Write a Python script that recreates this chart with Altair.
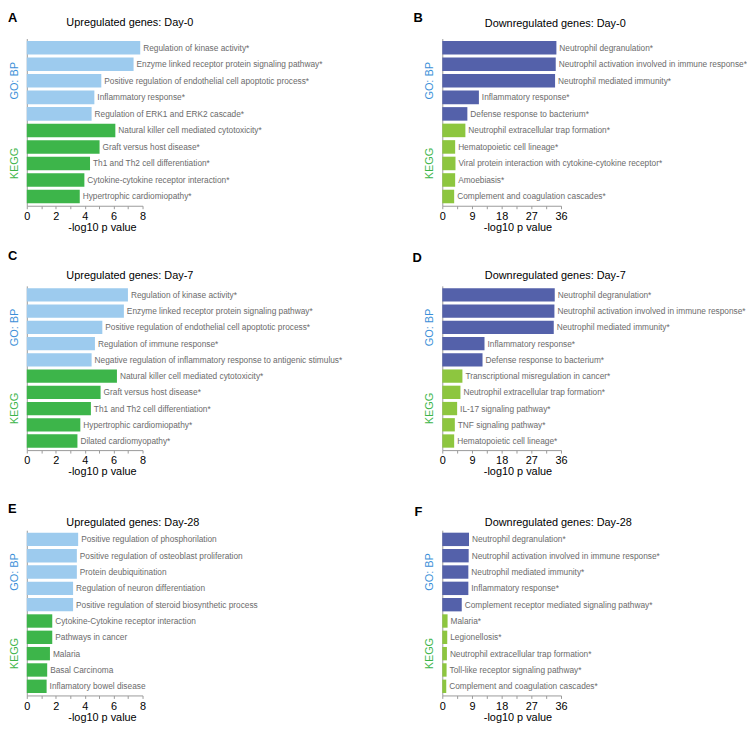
import altair as alt
import pandas as pd

FONT = "Liberation Sans"

GROUPS = ["GO: BP", "KEGG"]
GROUP_COUNTS = [5, 5]

A_letter = "A"
A_title = "Upregulated genes: Day-0"
A_terms = [
    "Regulation of kinase activity*",
    "Enzyme linked receptor protein signaling pathway*",
    "Positive regulation of endothelial cell apoptotic process*",
    "Inflammatory response*",
    "Regulation of ERK1 and ERK2 cascade*",
    "Natural killer cell mediated cytotoxicity*",
    "Graft versus host disease*",
    "Th1 and Th2 cell differentiation*",
    "Cytokine-cytokine receptor interaction*",
    "Hypertrophic cardiomiopathy*",
]
A_values = [7.84, 7.38, 5.15, 4.67, 4.48, 6.12, 5.03, 4.37, 3.98, 3.66]

B_letter = "B"
B_title = "Downregulated genes: Day-0"
B_terms = [
    "Neutrophil degranulation*",
    "Neutrophil activation involved in immune response*",
    "Neutrophil mediated immunity*",
    "Inflammatory response*",
    "Defense response to bacterium*",
    "Neutrophil extracellular trap formation*",
    "Hematopoietic cell lineage*",
    "Viral protein interaction with cytokine-cytokine receptor*",
    "Amoebiasis*",
    "Complement and coagulation cascades*",
]
B_values = [34.6, 34.4, 34.2, 11.1, 7.6, 7.0, 3.9, 4.0, 3.9, 3.6]

C_letter = "C"
C_title = "Upregulated genes: Day-7"
C_terms = [
    "Regulation of kinase activity*",
    "Enzyme linked receptor protein signaling pathway*",
    "Positive regulation of endothelial cell apoptotic process*",
    "Regulation of immune response*",
    "Negative regulation of inflammatory response to antigenic stimulus*",
    "Natural killer cell mediated cytotoxicity*",
    "Graft versus host disease*",
    "Th1 and Th2 cell differentiation*",
    "Hypertrophic cardiomiopathy*",
    "Dilated cardiomyopathy*",
]
C_values = [6.99, 6.71, 5.22, 4.71, 4.48, 6.23, 5.10, 4.43, 3.70, 3.50]

D_letter = "D"
D_title = "Downregulated genes: Day-7"
D_terms = [
    "Neutrophil degranulation*",
    "Neutrophil activation involved in immune response*",
    "Neutrophil mediated immunity*",
    "Inflammatory response*",
    "Defense response to bacterium*",
    "Transcriptional misregulation in cancer*",
    "Neutrophil extracellular trap formation*",
    "IL-17 signaling pathway*",
    "TNF signaling pathway*",
    "Hematopoietic cell lineage*",
]
D_values = [34.1, 34.0, 33.8, 12.8, 12.2, 6.1, 5.5, 4.5, 3.8, 3.6]

E_letter = "E"
E_title = "Upregulated genes: Day-28"
E_terms = [
    "Positive regulation of phosphorilation",
    "Positive regulation of osteoblast proliferation",
    "Protein deubiquitination",
    "Regulation of neuron differentiation",
    "Positive regulation of steroid biosynthetic process",
    "Cytokine-Cytokine receptor interaction",
    "Pathways in cancer",
    "Malaria",
    "Basal Carcinoma",
    "Inflamatory bowel disease",
]
E_values = [3.55, 3.46, 3.46, 3.20, 3.20, 1.76, 1.76, 1.60, 1.41, 1.37]

F_letter = "F"
F_title = "Downregulated genes: Day-28"
F_terms = [
    "Neutrophil degranulation*",
    "Neutrophil activation involved in immune response*",
    "Neutrophil mediated immunity*",
    "Inflammatory response*",
    "Complement receptor mediated signaling pathway*",
    "Malaria*",
    "Legionellosis*",
    "Neutrophil extracellular trap formation*",
    "Toll-like receptor signaling pathway*",
    "Complement and coagulation cascades*",
]
F_values = [8.1, 8.0, 7.9, 7.9, 5.9, 1.6, 1.5, 1.4, 1.3, 1.2]

UP_DOMAIN = [0, 8]
UP_TICKS = [0, 1, 2, 3, 4, 5, 6, 7, 8]
UP_LABELS = [0, 2, 4, 6, 8]
DOWN_DOMAIN = [0, 36]
DOWN_TICKS = [0, 4.5, 9, 13.5, 18, 22.5, 27, 31.5, 36]
DOWN_LABELS = [0, 9, 18, 27, 36]

UP_COLORS = ["#9dcbee", "#3db54a"]
DOWN_COLORS = ["#5461aa", "#8dc63f"]
GROUP_LABEL_COLORS = ["#3b8fd8", "#3db54a"]

UP_W = 117
DOWN_W = 120


def panel(letter, title, terms, values, domain, ticks, labvals, colors,
          width, height, letter_x, letter_y, title_x, title_y):
    groups = []
    for g, n in zip(GROUPS, GROUP_COUNTS):
        groups += [g] * n
    df = pd.DataFrame({"term": terms, "value": values, "group": groups})
    mids = []
    start = 0
    for n in GROUP_COUNTS:
        mids.append(terms[start + n // 2])
        start += n
    gdf = pd.DataFrame({"term": mids, "label": GROUPS})

    yscale = alt.Scale(domain=terms, paddingInner=0.18, paddingOuter=0.15)
    xscale = alt.Scale(domain=domain, nice=False, zero=True)
    lab_test = " || ".join(f"datum.value == {v}" for v in labvals)

    xaxis = alt.Axis(
        values=ticks,
        labelExpr=f"({lab_test}) ? datum.label : ''",
        title="-log10 p value",
        titleFont=FONT,
        titleFontSize=11,
        titleFontWeight="normal",
        titleColor="#000000",
        titleX=76,
        titleY=25,
        titleAlign="center",
        titleBaseline="alphabetic",
        labelFont=FONT,
        labelFontSize=11,
        labelColor="#000000",
        labelPadding=2,
        labelFlush=False,
        labelOverlap=False,
        labelBound=False,
        domainColor="#9a9a9a",
        tickColor="#9a9a9a",
        tickSize=3,
        grid=False,
    )
    yaxis = alt.Axis(labels=False, ticks=False, title=None,
                     domainColor="#9a9a9a", grid=False)

    base = alt.Chart(df)
    bars = base.mark_bar().encode(
        x=alt.X("value:Q", scale=xscale, axis=xaxis),
        y=alt.Y("term:N", scale=yscale, axis=yaxis),
        color=alt.Color("group:N",
                        scale=alt.Scale(domain=GROUPS, range=colors),
                        legend=None),
    )
    labels = base.mark_text(
        align="left", baseline="middle", dx=3, font=FONT, fontSize=8.4,
        color="#6b6b6b",
    ).encode(
        x=alt.X("value:Q", scale=xscale, axis=xaxis),
        y=alt.Y("term:N", scale=yscale, axis=yaxis),
        text="term:N",
    )
    glabels = alt.Chart(gdf).mark_text(
        angle=270, align="center", baseline="middle", font=FONT, fontSize=11,
    ).encode(
        x=alt.value(-12),
        y=alt.Y("term:N", scale=yscale, axis=yaxis),
        text="label:N",
        color=alt.Color("label:N",
                        scale=alt.Scale(domain=GROUPS, range=GROUP_LABEL_COLORS),
                        legend=None),
    )
    ldf = pd.DataFrame({"letter": [letter], "title": [title]})
    let = alt.Chart(ldf).mark_text(
        align="left", baseline="top", font=FONT, fontSize=13, fontWeight="bold",
        color="#000000",
    ).encode(
        x=alt.value(letter_x),
        y=alt.value(letter_y),
        text="letter:N",
    )
    ttl = alt.Chart(ldf).mark_text(
        align="left", baseline="alphabetic", font=FONT, fontSize=11,
        color="#000000",
    ).encode(
        x=alt.value(title_x),
        y=alt.value(title_y),
        text="title:N",
    )
    return alt.layer(bars, labels, glabels, let, ttl).properties(
        width=width,
        height=height,
    ).resolve_scale(color="independent")


pA = panel(A_letter, A_title, A_terms, A_values, UP_DOMAIN, UP_TICKS,
           UP_LABELS, UP_COLORS, UP_W, 169, -19, -27, 40, -13)
pB = panel(B_letter, B_title, B_terms, B_values, DOWN_DOMAIN, DOWN_TICKS,
           DOWN_LABELS, DOWN_COLORS, DOWN_W, 169, -29, -27, 43, -12)
pC = panel(C_letter, C_title, C_terms, C_values, UP_DOMAIN, UP_TICKS,
           UP_LABELS, UP_COLORS, UP_W, 166, -19, -36, 40, -7)
pD = panel(D_letter, D_title, D_terms, D_values, DOWN_DOMAIN, DOWN_TICKS,
           DOWN_LABELS, DOWN_COLORS, DOWN_W, 166, -30, -34, 43, -7)
pE = panel(E_letter, E_title, E_terms, E_values, UP_DOMAIN, UP_TICKS,
           UP_LABELS, UP_COLORS, UP_W, 167, -19, -27, 40, -4)
pF = panel(F_letter, F_title, F_terms, F_values, DOWN_DOMAIN, DOWN_TICKS,
           DOWN_LABELS, DOWN_COLORS, DOWN_W, 167, -28, -24, 43, -4)

chart = alt.concat(
    pA, pB, pC, pD, pE, pF, columns=2,
    spacing={"row": 81, "column": 303},
    bounds="flush",
    align="each",
).resolve_scale(
    x="independent", y="independent", color="independent"
).configure_view(
    stroke=None
).configure_axis(
    labelOverlap=False
).properties(
    padding=0,
    background="#ffffff",
)

chart.save("out.html", embed_options={"renderer": "svg", "actions": False})
